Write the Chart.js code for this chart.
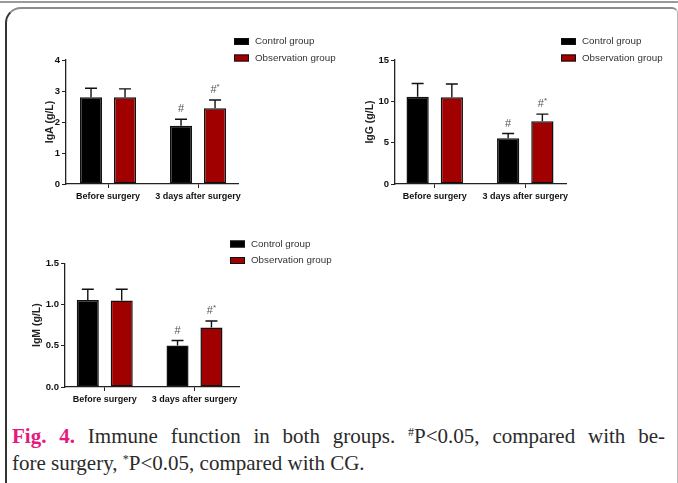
<!DOCTYPE html>
<html>
<head>
<meta charset="utf-8">
<script src="https://cdn.jsdelivr.net/npm/chart.js@4.4.0/dist/chart.umd.min.js"></script>
<style>
  body { margin: 0; background: #fff; }
  #page { position: relative; width: 678px; height: 483px; overflow: hidden; background: #fff; }
  #topLine { position: absolute; left: 0; top: 1px; width: 678px; height: 0; border-top: 2px solid #9a9a9a; }
  #frame { position: absolute; left: 5px; top: 7px; width: 670px; height: 500px;
           border-top: 2px solid #8c8c8c; border-left: 2px solid #333; border-right: 1px solid #bbb;
           border-top-left-radius: 16px; border-top-right-radius: 6px; }
  canvas { position: absolute; }
  #caption { position: absolute; left: 12px; top: 423px; width: 653px;
             font-family: "Liberation Serif", "Times New Roman", serif; font-size: 21px; line-height: 27px; color: #2a2a2a; }
  #caption .l1 { text-align: justify; text-align-last: justify; }
  #caption b { color: #e5197e; }
  #caption sup { font-size: 12px; line-height: 0; vertical-align: 7px; }
</style>
</head>
<body>
<div id="page">
  <div id="topLine"></div>
  <div id="frame"></div>
  <canvas id="igaChart" width="340" height="215" style="left:0;top:0"></canvas>
  <canvas id="iggChart" width="338" height="215" style="left:340px;top:0"></canvas>
  <canvas id="igmChart" width="340" height="203" style="left:0;top:215px"></canvas>
  <div id="caption">
    <div class="l1"><b>Fig. 4.</b> Immune function in both groups. <sup>#</sup>P&lt;0.05, compared with be-</div>
    <div>fore surgery, <sup>*</sup>P&lt;0.05, compared with CG.</div>
  </div>
</div>
<script>
// Data
const categories = ['Before surgery', '3 days after surgery'];
const groupNames = ['Control group', 'Observation group'];

const igaControl = [2.8, 1.88];
const igaControlSd = [0.29, 0.21];
const igaObservation = [2.8, 2.44];
const igaObservationSd = [0.27, 0.27];

const iggControl = [10.56, 5.52];
const iggControlSd = [1.6, 0.58];
const iggObservation = [10.48, 7.58];
const iggObservationSd = [1.62, 0.87];

const igmControl = [1.055, 0.503];
const igmControlSd = [0.13, 0.06];
const igmObservation = [1.05, 0.72];
const igmObservationSd = [0.135, 0.08];

const controlMarks = ['', '#'];
const observationMarks = ['', '#*'];

const sansFont = '"Liberation Sans", Arial, sans-serif';
const barColors = ['#000000', '#a00000'];

// Error bars + significance marks
const errorBarPlugin = {
    id: 'errorBars',
    afterDatasetsDraw(chart) {
        const ctx = chart.ctx;
        const yScale = chart.scales.y;
        chart.data.datasets.forEach((ds, d) => {
            const meta = chart.getDatasetMeta(d);
            meta.data.forEach((bar, i) => {
                const top = yScale.getPixelForValue(ds.data[i].y + ds.sd[i]);
                ctx.save();
                ctx.strokeStyle = '#111';
                ctx.lineWidth = 1.4;
                ctx.beginPath();
                ctx.moveTo(bar.x, bar.y);
                ctx.lineTo(bar.x, top);
                ctx.moveTo(bar.x - 6, top);
                ctx.lineTo(bar.x + 6, top);
                ctx.stroke();

                const mark = ds.marks[i];
                if (mark) {
                    ctx.fillStyle = '#555';
                    ctx.font = '11px ' + sansFont;
                    ctx.textBaseline = 'alphabetic';
                    const main = mark[0];
                    const sup = mark.slice(1);
                    const w = ctx.measureText(main).width;
                    ctx.font = '8px ' + sansFont;
                    const ws = sup ? ctx.measureText(sup).width : 0;
                    const x0 = bar.x - (w + ws) / 2;
                    ctx.font = '11px ' + sansFont;
                    ctx.textAlign = 'left';
                    ctx.fillText(main, x0, top - 7);
                    if (sup) {
                        ctx.font = '8px ' + sansFont;
                        ctx.fillText(sup, x0 + w, top - 11);
                    }
                }
                ctx.restore();
            });
        });
    }
};

// Legend drawn at a fixed spot
const boxLegendPlugin = {
    id: 'boxLegend',
    afterDraw(chart, args, opts) {
        const ctx = chart.ctx;
        ctx.save();
        chart.data.datasets.forEach((ds, i) => {
            const cy = opts.y + i * 16.5;
            ctx.fillStyle = ds.backgroundColor;
            ctx.fillRect(opts.x, cy - 3.5, 15, 7);
            ctx.strokeStyle = '#111';
            ctx.lineWidth = 1;
            ctx.strokeRect(opts.x + 0.5, cy - 3, 14, 6);
            ctx.fillStyle = '#333';
            ctx.font = '9.8px ' + sansFont;
            ctx.textBaseline = 'middle';
            ctx.textAlign = 'left';
            ctx.fillText(ds.label, opts.x + 21, cy);
        });
        ctx.restore();
    }
};

function makeChart(id, setup) {
    const ctx = document.getElementById(id).getContext('2d');
    const series = [
        { values: setup.control, sd: setup.controlSd, marks: controlMarks },
        { values: setup.observation, sd: setup.observationSd, marks: observationMarks }
    ];
    return new Chart(ctx, {
        type: 'bar',
        data: {
            datasets: series.map((s, k) => ({
                label: groupNames[k],
                data: s.values.map((v, i) => ({ x: i, y: v })),
                sd: s.sd,
                marks: s.marks,
                backgroundColor: barColors[k],
                borderColor: '#111',
                borderWidth: 1.5,
                borderSkipped: false,
                categoryPercentage: 0.756,
                barPercentage: 0.65
            }))
        },
        options: {
            responsive: false,
            animation: false,
            layout: { padding: { left: 0, top: setup.padTop, right: setup.padRight, bottom: 0 } },
            plugins: {
                legend: { display: false },
                tooltip: { enabled: false },
                boxLegend: { x: setup.legendX, y: setup.legendY }
            },
            scales: {
                x: {
                    type: 'linear',
                    offset: false,
                    min: setup.xMin,
                    max: setup.xMax,
                    afterBuildTicks: (scale) => { scale.ticks = categories.map((c, i) => ({ value: i })); },
                    afterFit: (scale) => { scale.height = 31; },
                    grid: { display: true, offset: false, drawOnChartArea: false, drawTicks: true, tickLength: 4, color: '#222', lineWidth: 1 },
                    border: { display: true, color: '#222', width: 1.3 },
                    ticks: {
                        autoSkip: false,
                        maxRotation: 0,
                        padding: 3,
                        color: '#111',
                        font: { family: sansFont, size: 9, weight: 'bold' },
                        callback: (v) => categories[v]
                    }
                },
                y: {
                    min: 0,
                    max: setup.yMax,
                    afterFit: (scale) => { scale.width = setup.yWidth; },
                    grid: { display: true, drawOnChartArea: false, drawTicks: true, tickLength: 4, color: '#222', lineWidth: 1 },
                    border: { display: true, color: '#222', width: 1.3 },
                    ticks: {
                        stepSize: setup.yStep,
                        padding: 2,
                        color: '#111',
                        font: { family: sansFont, size: 9.5, weight: 'bold' },
                        callback: (v) => setup.yDecimals ? v.toFixed(setup.yDecimals) : v
                    },
                    title: {
                        display: true,
                        text: setup.yTitle,
                        color: '#222',
                        padding: { top: setup.titlePad, bottom: 0 },
                        font: { family: sansFont, size: 10.5, weight: 'bold' }
                    }
                }
            }
        },
        plugins: [errorBarPlugin, boxLegendPlugin]
    });
}

makeChart('igaChart', {
    control: igaControl, controlSd: igaControlSd,
    observation: igaObservation, observationSd: igaObservationSd,
    yMax: 4, yStep: 1, yDecimals: 0, yTitle: 'IgA (g/L)',
    padTop: 60, padRight: 102, yWidth: 66, titlePad: 43.7,
    xMin: -0.467, xMax: 1.444, legendX: 234, legendY: 41.5
});

makeChart('iggChart', {
    control: iggControl, controlSd: iggControlSd,
    observation: iggObservation, observationSd: iggObservationSd,
    yMax: 15, yStep: 5, yDecimals: 0, yTitle: 'IgG (g/L)',
    padTop: 60, padRight: 338 - 226, yWidth: 55, titlePad: 23.7,
    xMin: -0.439, xMax: 1.45, legendX: 221, legendY: 41.5
});

makeChart('igmChart', {
    control: igmControl, controlSd: igmControlSd,
    observation: igmObservation, observationSd: igmObservationSd,
    yMax: 1.5, yStep: 0.5, yDecimals: 1, yTitle: 'IgM (g/L)',
    padTop: 48.3, padRight: 101, yWidth: 65, titlePad: 30.7,
    xMin: -0.443, xMax: 1.496, legendX: 230, legendY: 29
});
</script>
</body>
</html>
